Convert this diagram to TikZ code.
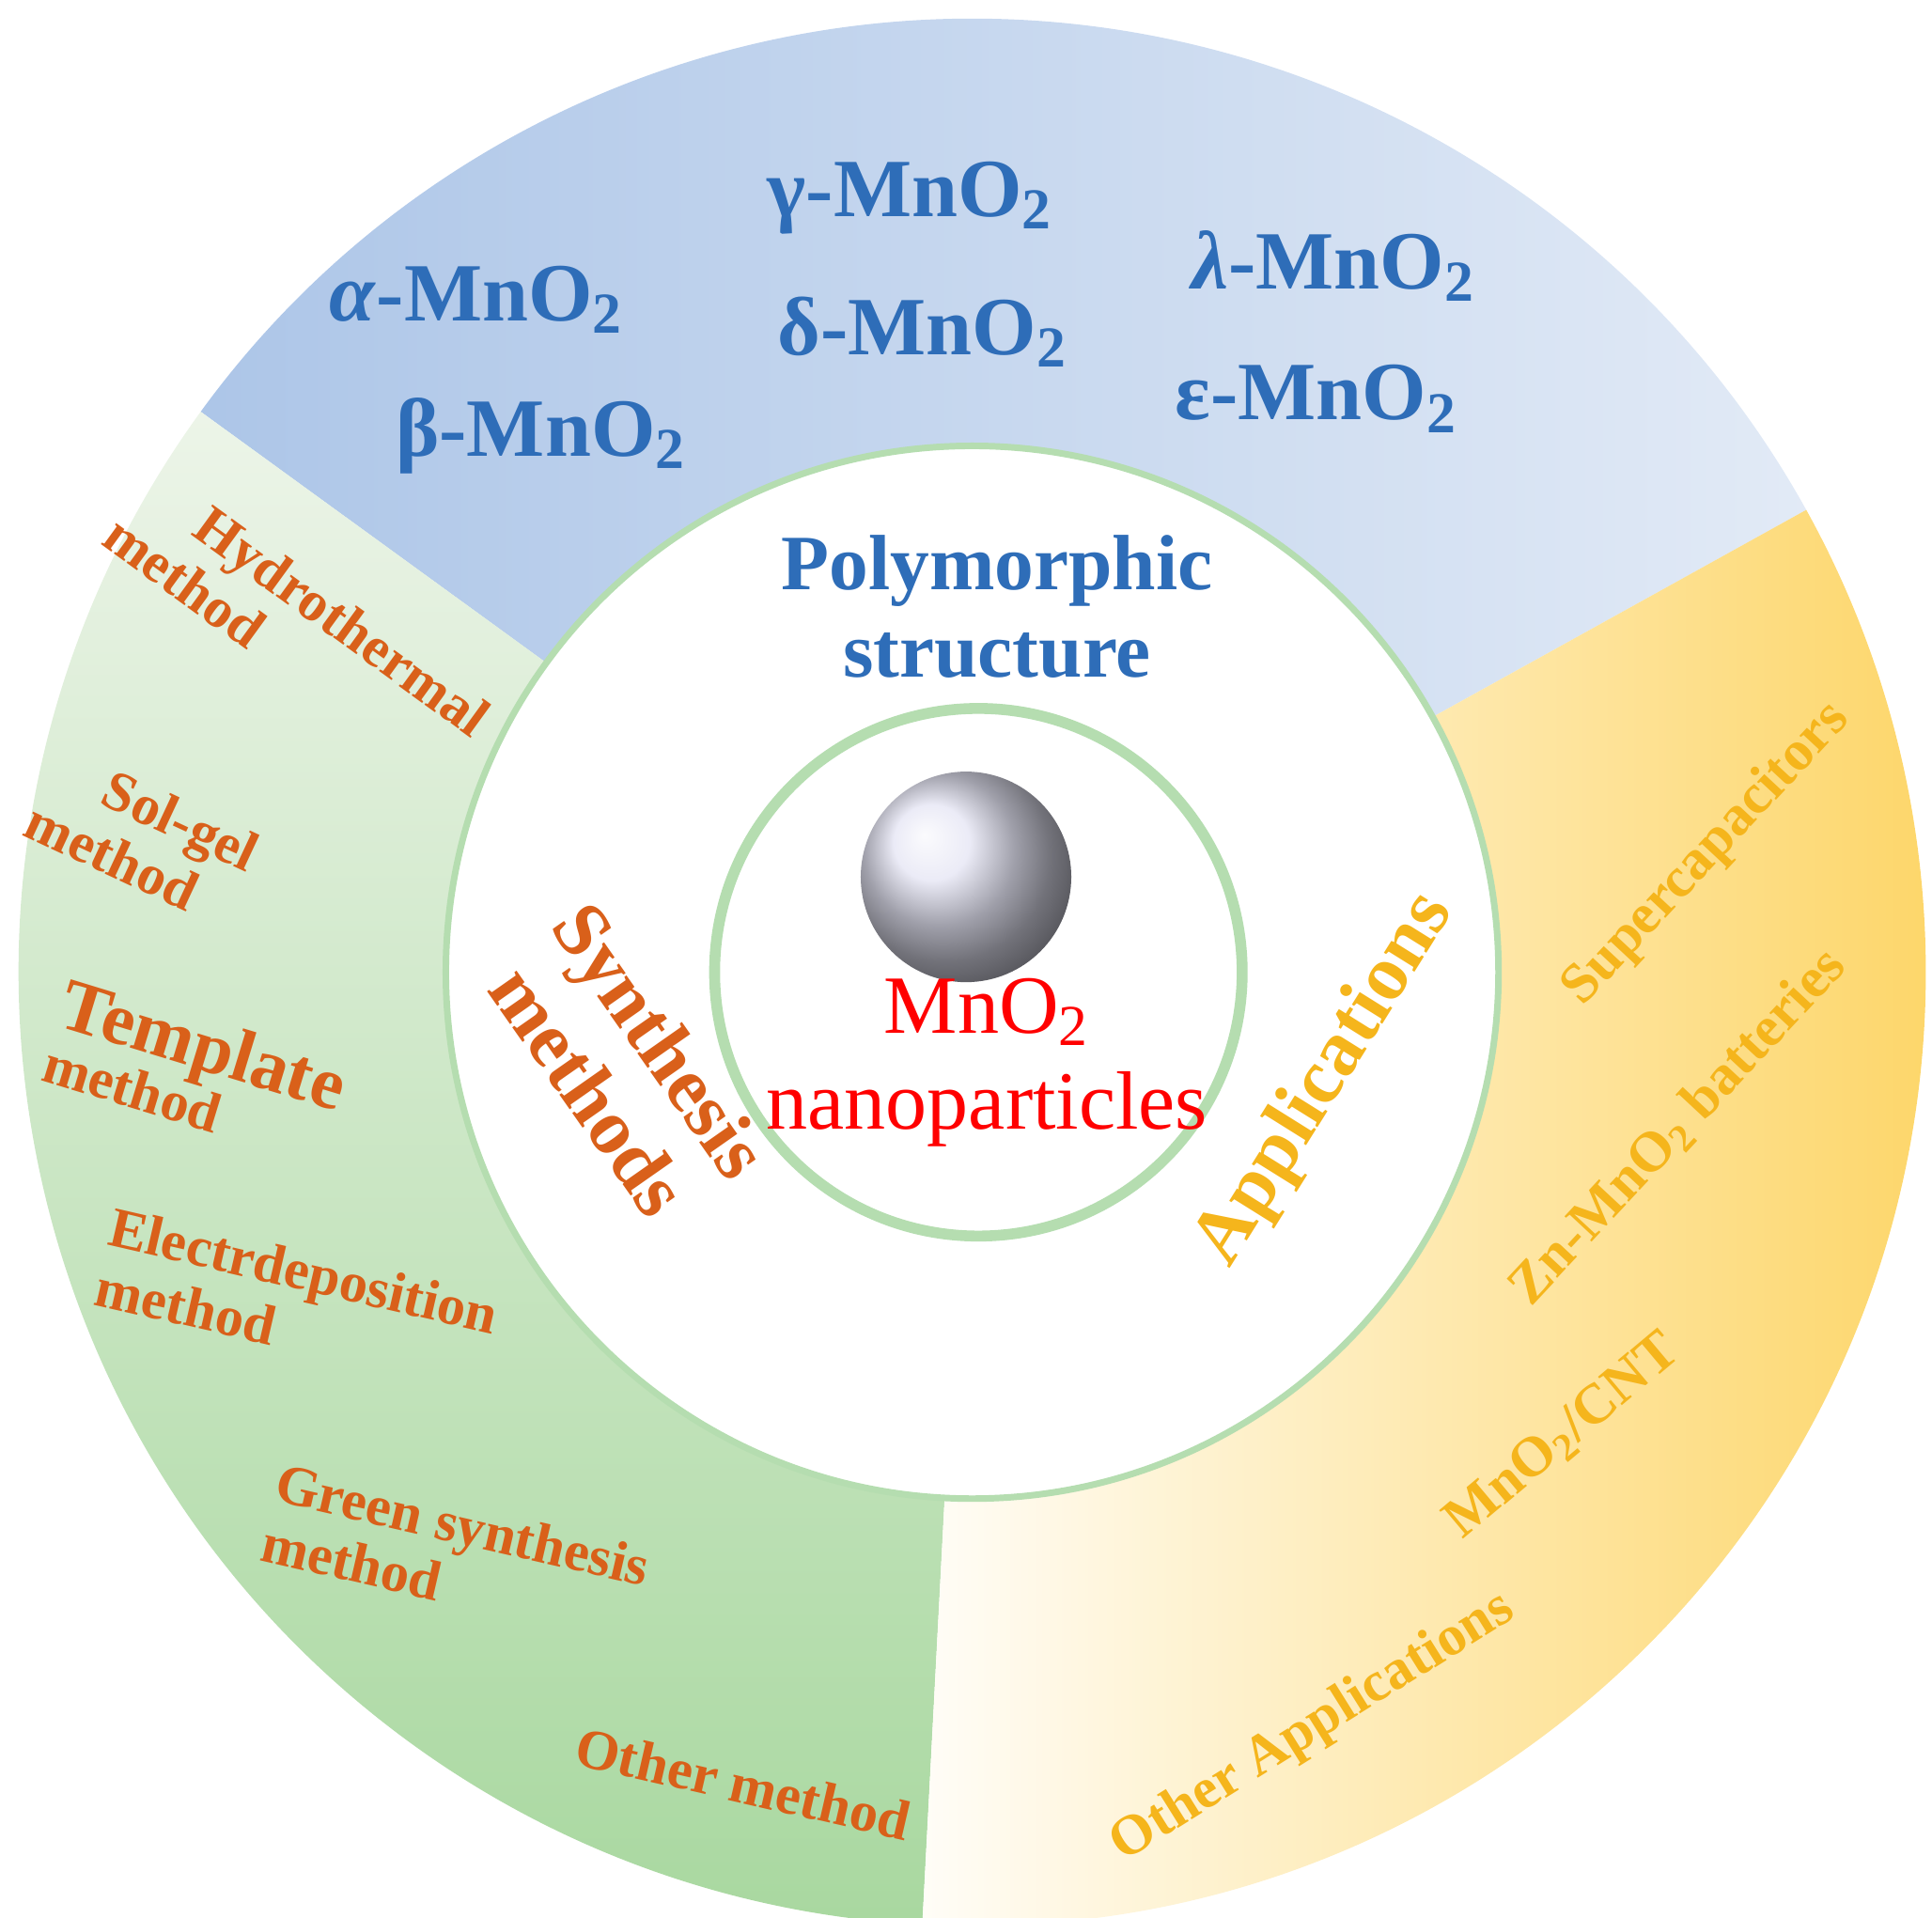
\documentclass[tikz,border=0pt]{standalone}
\usepackage{fontspec}
\setmainfont{Liberation Serif}
\usetikzlibrary{calc}
\definecolor{bl}{HTML}{2E6DB8}
\definecolor{or}{HTML}{D9601A}
\definecolor{ye}{HTML}{F5B51C}
\definecolor{bld}{HTML}{A6C1E6}
\definecolor{bll}{HTML}{E6EDF7}
\definecolor{grl}{HTML}{EEF5EA}
\definecolor{grd}{HTML}{A9D8A0}
\definecolor{yed}{HTML}{FDD66A}
\definecolor{ring}{HTML}{B5DDB0}
\newcommand{\sbt}{\textsubscript{2}}
\tikzset{
 bt/.style={text=bl,font=\fontsize{19}{21}\selectfont\bfseries},
 ot/.style={text=or,font=\fontsize{13}{14}\selectfont\bfseries,align=left},
 yt/.style={text=ye,font=\fontsize{13}{14}\selectfont\bfseries},
}
\begin{document}
\begin{tikzpicture}[x=0.01cm,y=0.01cm]
\useasboundingbox (0,0) rectangle (1560,-1548);
\coordinate (c) at (785,-785);
\begin{scope}
\clip (c) -- ++(29:770) arc (29:144:770) -- cycle;
\shade[left color=bld, right color=bll] (0,0) rectangle (1560,-800);
\end{scope}
\begin{scope}
\clip (c) -- ++(144:770) arc (144:267:770) -- cycle;
\shade[top color=grl, bottom color=grd] (0,-300) rectangle (800,-1548);
\end{scope}
\begin{scope}
\clip (c) -- ++(267:770) arc (-93:29:770) -- cycle;
\shade[shading=axis, shading angle=135, left color=white, right color=yed] (700,-300) rectangle (1560,-1548);
\end{scope}
\fill[white] (c) circle (425);
\draw[ring, line width=1.5pt] (c) circle (425);
\draw[ring, line width=2.5pt] (790,-785) circle (213);
\shade[ball color=gray!60!blue!15] (780,-708) circle (85);
\node[text=red,font=\fontsize{19}{22}\selectfont,align=center] (mn) at (797,-858) {MnO\textsubscript{2}\\nanoparticles};
\node[bt,font=\fontsize{18}{20}\selectfont\bfseries,align=center] (poly) at (805,-490) {Polymorphic\\structure};
\node[text=or,font=\fontsize{18}{20}\selectfont\bfseries,align=center,rotate=-55] (syn) at (505,-860) {Synthesis\\methods};
\node[text=ye,font=\fontsize{18}{20}\selectfont\bfseries,rotate=58] (app) at (1070,-872) {Applications};
\node[bt] (a) at (385,-242) {\textit{α}-MnO\sbt};
\node[bt] (b) at (437,-352) {β-MnO\sbt};
\node[bt] (g) at (735,-160) {γ-MnO\sbt};
\node[bt] (d) at (745,-268) {δ-MnO\sbt};
\node[bt] (l) at (1077,-215) {\textit{λ}-MnO\sbt};
\node[bt] (e) at (1063,-322) {ε-MnO\sbt};
\node[ot,rotate=-36] (h) at (240,-505) {\hspace*{1.2em}Hydrothermal\\method};
\node[ot,rotate=-25] (s) at (115,-675) {\hspace*{1em}Sol-gel\\method};
\node[ot,rotate=-17,font=\fontsize{17}{15}\selectfont\bfseries] (t) at (158,-865) {Template\\[-2pt]{\fontsize{13}{14}\selectfont method}};
\node[ot,rotate=-13] (el) at (240,-1050) {Electrdeposition\\method};
\node[ot,rotate=-13] (gr) at (368,-1255) {Green synthesis\\method};
\node[ot,rotate=-13] (ot) at (600,-1440) {Other method};
\node[yt,rotate=47] (sc) at (1378,-690) {Supercapacitors};
\node[yt,rotate=47] (zn) at (1355,-910) {Zn-MnO\textsubscript{2} batteries};
\node[yt,rotate=40] (cnt) at (1262,-1160) {MnO\textsubscript{2}/CNT};
\node[yt,rotate=32] (oa) at (1060,-1395) {Other Applications};
\end{tikzpicture}
\end{document}
